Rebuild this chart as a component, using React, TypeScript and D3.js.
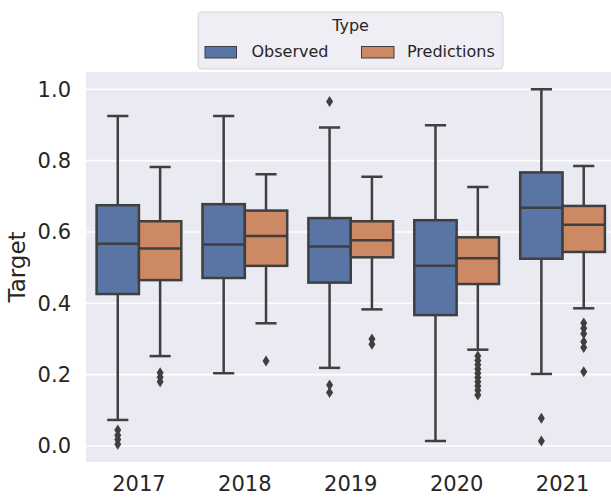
import React from "react";
import * as d3 from "d3";

const years = ["2017", "2018", "2019", "2020", "2021"];
const types = ["Observed", "Predictions"];
// seaborn "deep" colours at saturation 0.75
const colors = ["#5975a4", "#cc8963"];

// box stats
const obsLow = [0.073, 0.204, 0.219, 0.014, 0.202];
const obsQ1 = [0.426, 0.471, 0.458, 0.367, 0.525];
const obsMedian = [0.567, 0.565, 0.559, 0.505, 0.668];
const obsQ3 = [0.675, 0.678, 0.639, 0.633, 0.767];
const obsHigh = [0.925, 0.925, 0.893, 0.899, 1.0];
const obsOutliers = [
  [0.045, 0.03, 0.018, 0.005],
  [],
  [0.966, 0.171, 0.15],
  [],
  [0.078, 0.014],
];

const predLow = [0.252, 0.344, 0.383, 0.27, 0.386];
const predQ1 = [0.465, 0.505, 0.529, 0.454, 0.544];
const predMedian = [0.554, 0.589, 0.577, 0.526, 0.62];
const predQ3 = [0.63, 0.66, 0.63, 0.585, 0.673];
const predHigh = [0.782, 0.762, 0.755, 0.726, 0.785];
const predOutliers = [
  [0.205, 0.193, 0.18],
  [0.238],
  [0.3, 0.285],
  [0.252, 0.24, 0.228, 0.216, 0.204, 0.192, 0.18, 0.168, 0.156, 0.143],
  [0.345, 0.33, 0.315, 0.292, 0.276, 0.208],
];

const yTicks = [0, 0.2, 0.4, 0.6, 0.8, 1.0];

const W = 611;
const H = 497;
const plotLeft = 86;
const plotRight = 615.5;
const plotTop = 72;
const plotBottom = 462;
const edge = "#3f3f3f";
const textColor = "#262626";
const font = "DejaVu Sans, sans-serif";

export default function App() {
  const x = d3.scaleBand<string>().domain(years).range([plotLeft, plotRight]);
  const inner = d3.scaleBand<string>().domain(types).range([0, x.bandwidth() * 0.8]);
  const y = d3.scaleLinear().domain([-0.0449, 1.0485]).range([plotBottom, plotTop]);

  const series = [
    { low: obsLow, q1: obsQ1, med: obsMedian, q3: obsQ3, high: obsHigh, out: obsOutliers },
    { low: predLow, q1: predQ1, med: predMedian, q3: predQ3, high: predHigh, out: predOutliers },
  ];

  // matplotlib "d" marker (thin diamond)
  const diamond = (cx: number, cy: number) =>
    `M${cx},${cy - 5.5}L${cx + 3.5},${cy}L${cx},${cy + 5.5}L${cx - 3.5},${cy}Z`;

  return (
    <svg width={W} height={H} style={{ position: "absolute", left: 0, top: 0 }} fontFamily={font}>
      <defs>
        <clipPath id="plot">
          <rect x={plotLeft} y={plotTop} width={plotRight - plotLeft} height={plotBottom - plotTop} />
        </clipPath>
      </defs>
      <rect x={plotLeft} y={plotTop} width={plotRight - plotLeft} height={plotBottom - plotTop} fill="#eaeaf2" />
      {yTicks.map((t) => (
        <g key={t}>
          <line x1={plotLeft} x2={plotRight} y1={y(t)} y2={y(t)} stroke="#fff" strokeWidth={1.6} />
          <text x={71} y={y(t)} dy="0.35em" textAnchor="end" fontSize={21} fill={textColor}>
            {t.toFixed(1)}
          </text>
        </g>
      ))}
      <g clipPath="url(#plot)">
        {years.map((yr, i) => {
          const x0 = (x(yr) ?? 0) + x.bandwidth() * 0.1;
          return series.map((s, k) => {
            const bx = x0 + (inner(types[k]) ?? 0);
            const bw = inner.bandwidth();
            const cx = bx + bw / 2;
            return (
              <g key={yr + k}>
                <line x1={cx} x2={cx} y1={y(s.q3[i])} y2={y(s.high[i])} stroke={edge} strokeWidth={2.5} />
                <line x1={cx} x2={cx} y1={y(s.q1[i])} y2={y(s.low[i])} stroke={edge} strokeWidth={2.5} />
                <line x1={cx - bw / 4} x2={cx + bw / 4} y1={y(s.high[i])} y2={y(s.high[i])} stroke={edge} strokeWidth={2.5} />
                <line x1={cx - bw / 4} x2={cx + bw / 4} y1={y(s.low[i])} y2={y(s.low[i])} stroke={edge} strokeWidth={2.5} />
                <rect
                  x={bx}
                  y={y(s.q3[i])}
                  width={bw}
                  height={y(s.q1[i]) - y(s.q3[i])}
                  fill={colors[k]}
                  stroke={edge}
                  strokeWidth={2.5}
                />
                <line x1={bx} x2={bx + bw} y1={y(s.med[i])} y2={y(s.med[i])} stroke={edge} strokeWidth={2.5} />
                {s.out[i].map((v, j) => (
                  <path key={j} d={diamond(cx, y(v))} fill={edge} />
                ))}
              </g>
            );
          });
        })}
      </g>
      {years.map((yr) => (
        <text
          key={yr}
          x={(x(yr) ?? 0) + x.bandwidth() / 2}
          y={491}
          textAnchor="middle"
          fontSize={21}
          fill={textColor}
        >
          {yr}
        </text>
      ))}
      <text transform={`translate(25,${(plotTop + plotBottom) / 2}) rotate(-90)`} textAnchor="middle" fontSize={23} fill={textColor}>
        Target
      </text>
      <g>
        <rect x={198} y={12} width={305} height={57} rx={4} fill="#eeeef4" stroke="#d4d4d8" strokeWidth={1} />
        <text x={350.5} y={31} textAnchor="middle" fontSize={16} fill={textColor}>
          Type
        </text>
        <rect x={205} y={46.5} width={31.5} height={11.5} fill={colors[0]} stroke={edge} strokeWidth={1} />
        <text x={251.5} y={57} fontSize={16} fill={textColor}>
          Observed
        </text>
        <rect x={361.5} y={46.5} width={32.5} height={11.5} fill={colors[1]} stroke={edge} strokeWidth={1} />
        <text x={407} y={57} fontSize={16} fill={textColor}>
          Predictions
        </text>
      </g>
    </svg>
  );
}
